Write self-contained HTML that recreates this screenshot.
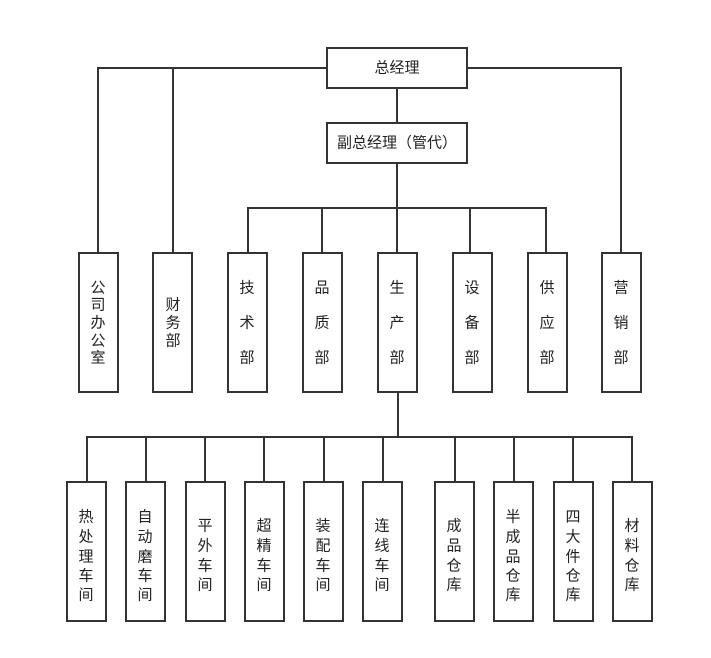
<!DOCTYPE html>
<html><head><meta charset="utf-8"><style>
html,body{margin:0;padding:0;background:#fff;}
svg text{font-family:"Liberation Sans","Noto Sans CJK SC",sans-serif;font-size:15px;fill:#222;text-anchor:middle;dominant-baseline:central;}
</style></head><body>
<svg width="711" height="653" viewBox="0 0 711 653" xmlns="http://www.w3.org/2000/svg">
<g stroke="#333" stroke-width="2" fill="none">
<!-- top connectors -->
<polyline points="327,68 98,68 98,253"/>
<line x1="173" y1="68" x2="173" y2="253"/>
<polyline points="467,68 621,68 621,253"/>
<line x1="397" y1="88" x2="397" y2="123"/>
<line x1="397" y1="163" x2="397" y2="253"/>
<line x1="247" y1="208" x2="547" y2="208"/>
<line x1="248" y1="208" x2="248" y2="253"/>
<line x1="322" y1="208" x2="322" y2="253"/>
<line x1="470" y1="208" x2="470" y2="253"/>
<line x1="546" y1="208" x2="546" y2="253"/>
<!-- bottom connectors -->
<line x1="398" y1="392" x2="398" y2="437"/>
<line x1="86" y1="437" x2="633" y2="437"/>
<line x1="87" y1="437" x2="87" y2="482"/>
<line x1="146" y1="437" x2="146" y2="482"/>
<line x1="205" y1="437" x2="205" y2="482"/>
<line x1="264" y1="437" x2="264" y2="482"/>
<line x1="324" y1="437" x2="324" y2="482"/>
<line x1="383" y1="437" x2="383" y2="482"/>
<line x1="455" y1="437" x2="455" y2="482"/>
<line x1="514" y1="437" x2="514" y2="482"/>
<line x1="573" y1="437" x2="573" y2="482"/>
<line x1="632" y1="437" x2="632" y2="482"/>
<!-- boxes -->
<rect x="327" y="48" width="140" height="40" fill="#fff"/>
<rect x="327" y="123" width="140" height="40" fill="#fff"/>
<rect x="79" y="253" width="39" height="139"/>
<rect x="153" y="253" width="39" height="139"/>
<rect x="228" y="253" width="39" height="139"/>
<rect x="303" y="253" width="39" height="139"/>
<rect x="378" y="253" width="39" height="139"/>
<rect x="453" y="253" width="39" height="139"/>
<rect x="528" y="253" width="39" height="139"/>
<rect x="602" y="253" width="39" height="139"/>
<rect x="67" y="482" width="39" height="139"/>
<rect x="126" y="482" width="39" height="139"/>
<rect x="186" y="482" width="39" height="139"/>
<rect x="245" y="482" width="39" height="139"/>
<rect x="304" y="482" width="39" height="139"/>
<rect x="363" y="482" width="39" height="139"/>
<rect x="435" y="482" width="39" height="139"/>
<rect x="494" y="482" width="39" height="139"/>
<rect x="554" y="482" width="39" height="139"/>
<rect x="613" y="482" width="39" height="139"/>
</g>
<text x="397" y="68">总经理</text>
<text x="397" y="143">副总经理（管代）</text>
<!-- dept -->
<g>
<text x="98" y="288">公</text><text x="98" y="305">司</text><text x="98" y="323">办</text><text x="98" y="341">公</text><text x="98" y="358">室</text>
<text x="173" y="305">财</text><text x="173" y="323">务</text><text x="173" y="341">部</text>
<text x="247" y="288">技</text><text x="247" y="323">术</text><text x="247" y="358">部</text>
<text x="322" y="288">品</text><text x="322" y="323">质</text><text x="322" y="358">部</text>
<text x="397" y="288">生</text><text x="397" y="323">产</text><text x="397" y="358">部</text>
<text x="472" y="288">设</text><text x="472" y="323">备</text><text x="472" y="358">部</text>
<text x="547" y="288">供</text><text x="547" y="323">应</text><text x="547" y="358">部</text>
<text x="621" y="288">营</text><text x="621" y="323">销</text><text x="621" y="358">部</text>
</g>
<!-- workshops -->
<g>
<text x="86" y="517">热</text><text x="86" y="537">处</text><text x="86" y="557">理</text><text x="86" y="576">车</text><text x="86" y="595">间</text>
<text x="145" y="517">自</text><text x="145" y="537">动</text><text x="145" y="557">磨</text><text x="145" y="576">车</text><text x="145" y="595">间</text>
<text x="205" y="526">平</text><text x="205" y="546">外</text><text x="205" y="566">车</text><text x="205" y="585">间</text>
<text x="264" y="526">超</text><text x="264" y="546">精</text><text x="264" y="566">车</text><text x="264" y="585">间</text>
<text x="323" y="526">装</text><text x="323" y="546">配</text><text x="323" y="566">车</text><text x="323" y="585">间</text>
<text x="382" y="526">连</text><text x="382" y="546">线</text><text x="382" y="566">车</text><text x="382" y="585">间</text>
<text x="454" y="526">成</text><text x="454" y="546">品</text><text x="454" y="566">仓</text><text x="454" y="585">库</text>
<text x="513" y="517">半</text><text x="513" y="537">成</text><text x="513" y="557">品</text><text x="513" y="576">仓</text><text x="513" y="595">库</text>
<text x="573" y="517">四</text><text x="573" y="537">大</text><text x="573" y="557">件</text><text x="573" y="576">仓</text><text x="573" y="595">库</text>
<text x="632" y="526">材</text><text x="632" y="546">料</text><text x="632" y="566">仓</text><text x="632" y="585">库</text>
</g>
</svg>
</body></html>
